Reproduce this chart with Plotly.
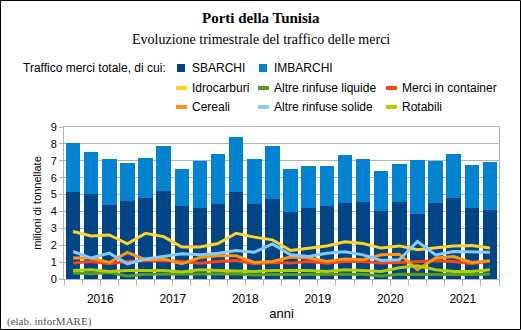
import plotly.graph_objects as go

years = ["2016", "2017", "2018", "2019", "2020", "2021"]
quarters = list(range(24))

sbarchi = [5.17, 5.01, 4.36, 4.60, 4.77, 5.19, 4.30, 4.22, 4.46, 5.13, 4.42, 4.72,
           3.95, 4.22, 4.30, 4.48, 4.58, 4.03, 4.58, 3.83, 4.48, 4.81, 4.19, 4.09]
totale = [8.04, 7.50, 7.11, 6.88, 7.17, 7.90, 6.54, 6.97, 7.39, 8.41, 7.09, 7.86,
          6.54, 6.68, 6.68, 7.35, 7.09, 6.37, 6.78, 7.02, 6.99, 7.43, 6.76, 6.90]
imbarchi = [round(t - s, 2) for t, s in zip(totale, sbarchi)]

idrocarburi = [2.81, 2.55, 2.61, 2.08, 2.71, 2.51, 1.89, 1.90, 2.10, 2.71, 2.48, 2.32,
               1.69, 1.83, 1.96, 2.20, 2.10, 1.83, 1.96, 1.73, 1.83, 1.96, 1.98, 1.83]
rinfuse_liquide = [0.35, 0.31, 0.39, 0.18, 0.28, 0.28, 0.31, 0.28, 0.28, 0.31, 0.24, 0.28,
                   0.26, 0.28, 0.26, 0.28, 0.28, 0.18, 0.28, 0.27, 0.27, 0.27, 0.27, 0.29]
container = [0.94, 1.04, 0.90, 1.04, 1.08, 1.10, 1.04, 0.94, 1.04, 1.10, 0.90, 0.98,
             0.94, 1.04, 0.94, 1.04, 1.04, 0.94, 0.98, 1.04, 1.08, 1.04, 0.90, 1.06]
cereali = [1.24, 1.24, 0.98, 1.57, 1.14, 1.18, 0.90, 1.27, 1.37, 1.37, 0.98, 1.04,
           1.30, 1.24, 1.04, 1.18, 1.14, 1.43, 1.47, 0.55, 1.24, 1.33, 0.98, 1.08]
rinfuse_solide = [1.63, 1.24, 1.53, 0.90, 1.18, 1.33, 1.49, 1.43, 1.53, 1.69, 1.59, 2.08,
                  1.43, 1.33, 1.53, 1.61, 1.43, 1.10, 1.14, 2.22, 1.43, 1.63, 1.63, 1.59]
rotabili = [0.51, 0.55, 0.45, 0.51, 0.51, 0.51, 0.41, 0.55, 0.51, 0.49, 0.45, 0.51,
            0.51, 0.51, 0.45, 0.55, 0.51, 0.45, 0.67, 0.78, 0.55, 0.45, 0.45, 0.55]

W, H = 521, 330
ML, MR, MT, MB = 64, 22, 127, 51
PW, PH = W - ML - MR, H - MT - MB


def px_x(px):
    return (px - ML) / PW


def px_y(py):
    return (H - MB - py) / PH


bars = [("SBARCHI", sbarchi, "#004586"), ("IMBARCHI", imbarchi, "#0084d1")]
lines = [
    ("Idrocarburi", idrocarburi, "#ffd320"),
    ("Altre rinfuse liquide", rinfuse_liquide, "#579d1c"),
    ("Merci in container", container, "#ff420e"),
    ("Cereali", cereali, "#ff950e"),
    ("Altre rinfuse solide", rinfuse_solide, "#83caff"),
    ("Rotabili", rotabili, "#aecf00"),
]

fig = go.Figure()
for name, vals, col in bars:
    fig.add_trace(go.Bar(x=quarters, y=vals, name=name, marker_color=col,
                         marker_line_width=0))
for name, vals, col in lines:
    fig.add_trace(go.Scatter(x=quarters, y=vals, name=name, mode="lines",
                             line=dict(color=col, width=3)))

legfont = dict(family="Liberation Sans, Arial, sans-serif", size=12, color="#000")

# custom legend layout (grid of 3 columns)
col_x = [176, 258, 386]
row_y = [68, 88, 107]
legend_slots = [
    (0, 0, "bar"), (0, 1, "bar"),
    (1, 0, "line"), (1, 1, "line"), (1, 2, "line"),
    (2, 0, "line"), (2, 1, "line"), (2, 2, "line"),
]
entries = bars + lines
shapes = []
annotations = []
for (r, c, kind), (name, _, col) in zip(legend_slots, entries):
    x0 = col_x[c]
    yc = row_y[r]
    if kind == "bar":
        sx0, sx1, sy0, sy1 = x0 + 1, x0 + 9, yc - 4, yc + 4
    else:
        sx0, sx1, sy0, sy1 = x0, x0 + 11, yc - 2, yc + 2
    shapes.append(dict(type="rect", xref="paper", yref="paper",
                       x0=px_x(sx0), x1=px_x(sx1), y0=px_y(sy1), y1=px_y(sy0),
                       line=dict(width=0), fillcolor=col))
    annotations.append(dict(text=name, xref="paper", yref="paper",
                            x=px_x(x0 + 14), y=px_y(yc), xanchor="left",
                            yanchor="middle", showarrow=False, font=legfont))

annotations += [
    dict(text="<b>Porti della Tunisia</b>", xref="paper", yref="paper",
         x=px_x(W / 2), y=px_y(18), xanchor="center", yanchor="middle", showarrow=False,
         font=dict(family="Liberation Serif, Times New Roman, serif", size=15)),
    dict(text="Evoluzione trimestrale del traffico delle merci", xref="paper",
         yref="paper", x=px_x(W / 2), y=px_y(40), xanchor="center", yanchor="middle",
         showarrow=False,
         font=dict(family="Liberation Serif, Times New Roman, serif", size=14)),
    dict(text="Traffico merci totale, di cui:", xref="paper", yref="paper",
         x=px_x(21), y=px_y(68), xanchor="left", yanchor="middle", showarrow=False,
         font=legfont),
    dict(text="(elab. inforMARE)", xref="paper", yref="paper",
         x=px_x(5), y=px_y(321), xanchor="left", yanchor="middle", showarrow=False,
         font=dict(family="Liberation Serif, Times New Roman, serif", size=11,
                   color="#555")),
]
shapes.append(dict(type="rect", xref="paper", yref="paper",
                   x0=px_x(0.5), x1=px_x(W - 0.5), y0=px_y(H - 0.5), y1=px_y(0.5),
                   line=dict(color="black", width=1), fillcolor="rgba(0,0,0,0)"))

fig.update_layout(
    width=W, height=H,
    margin=dict(l=ML, r=MR, t=MT, b=MB),
    paper_bgcolor="white", plot_bgcolor="white",
    barmode="stack", bargap=0.2,
    font=dict(family="Liberation Sans, Arial, sans-serif", size=11, color="#000"),
    showlegend=False,
    xaxis=dict(range=[-0.5, 23.5], tickmode="array",
               tickvals=[1.5 + 4 * i for i in range(6)], ticktext=years,
               ticks="outside", ticklen=9, tickcolor="rgba(0,0,0,0)",
               showgrid=False, showline=True, linecolor="#b3b3b3", mirror=True,
               tickfont=dict(size=12),
               minor=dict(tickmode="array", tickvals=[i - 0.5 for i in range(25)],
                          ticks="outside", ticklen=6, tickcolor="#b3b3b3", showgrid=False),
               title=dict(text="anni", font=dict(size=13), standoff=3)),
    yaxis=dict(range=[0, 9], dtick=1, showgrid=True, gridcolor="#b3b3b3",
               showline=True, linecolor="#b3b3b3", mirror=True,
               ticks="outside", ticklen=4, tickcolor="#b3b3b3", zeroline=False,
               tickfont=dict(size=11),
               title=dict(text="milioni di tonnellate", font=dict(size=11), standoff=6)),
    annotations=annotations,
    shapes=shapes,
)

fig.write_html("out.html")
